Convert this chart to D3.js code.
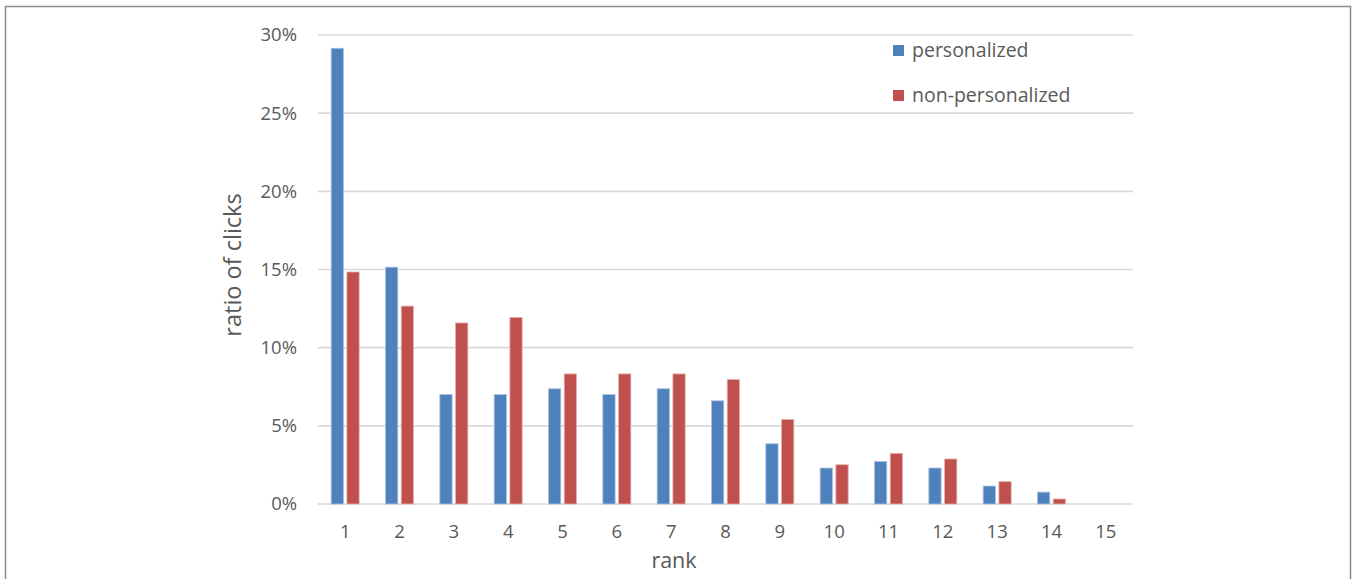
<!DOCTYPE html>
<html>
<head>
<meta charset="utf-8">
<script src="https://cdn.jsdelivr.net/npm/d3@7"></script>
<style>
  html, body { margin: 0; padding: 0; background: #fff; }
  svg { display: block; }
  text { font-family: "Open Sans", "Noto Sans", sans-serif; fill: #595959; }
</style>
</head>
<body>
<svg id="chart" width="1356" height="579"></svg>
<script>
// Click-through share per result rank
const ranks = [1, 2, 3, 4, 5, 6, 7, 8, 9, 10, 11, 12, 13, 14, 15];
const seriesNames = ["personalized", "non-personalized"];
const personalized = [29.15, 15.15, 7.0, 7.0, 7.37, 7.0, 7.37, 6.6, 3.85, 2.3, 2.72, 2.3, 1.15, 0.76, 0];
const nonPersonalized = [14.84, 12.66, 11.58, 11.93, 8.32, 8.32, 8.32, 7.96, 5.4, 2.51, 3.24, 2.88, 1.43, 0.32, 0];
const yTicks = [0, 5, 10, 15, 20, 25, 30];
const colors = ["#4F81BD", "#C0504D"];
const strokes = ["#a9c0de", "#e3b0ae"];

const svg = d3.select("#chart");
const W = 1356, H = 579;
const plot = { left: 318, right: 1133, top: 35, bottom: 504 };

// outer frame (open at the bottom)
svg.append("path")
  .attr("d", `M5.5,${H} V6.5 H1350.5 V${H}`)
  .attr("fill", "none")
  .attr("stroke", "#8c8c8c")
  .attr("stroke-width", 1.5);

const y = d3.scaleLinear().domain([0, 30]).range([plot.bottom, plot.top]);

const groupPad = 1 - 28 / ((plot.right - plot.left) / ranks.length);
const x0 = d3.scaleBand().domain(ranks).range([plot.left, plot.right])
  .paddingInner(groupPad).paddingOuter(groupPad / 2);
const x1 = d3.scaleBand().domain(seriesNames).range([0, x0.bandwidth()]).paddingInner(0.22);

// horizontal gridlines
svg.append("g").selectAll("line").data(yTicks).join("line")
  .attr("x1", plot.left).attr("x2", plot.right)
  .attr("y1", d => y(d)).attr("y2", d => y(d))
  .attr("stroke", "#d9d9d9").attr("stroke-width", 1.6);

// y axis labels
const yAxis = d3.axisLeft(y).tickValues(yTicks).tickFormat(d => d + "%").tickSize(0).tickPadding(21);
const gy = svg.append("g").attr("transform", `translate(${plot.left},0)`).call(yAxis);
gy.select(".domain").remove();
gy.selectAll("text").attr("font-size", 18.5).attr("fill", "#595959")
  .style("font-family", '"Open Sans", "Noto Sans", sans-serif');

// x axis labels
const xAxis = d3.axisBottom(x0).tickSize(0).tickPadding(21);
const gx = svg.append("g").attr("transform", `translate(0,${plot.bottom})`).call(xAxis);
gx.select(".domain").remove();
gx.selectAll("text").attr("font-size", 18.5).attr("fill", "#595959")
  .style("font-family", '"Open Sans", "Noto Sans", sans-serif');

// bars
const rows = ranks.map((r, i) => ({ rank: r, values: [personalized[i], nonPersonalized[i]] }));
const groups = svg.append("g").selectAll("g").data(rows).join("g")
  .attr("transform", d => `translate(${x0(d.rank)},0)`);
groups.selectAll("rect")
  .data(d => d.values.map((v, k) => ({ key: seriesNames[k], k, v })).filter(e => e.v > 0))
  .join("rect")
  .attr("x", d => x1(d.key))
  .attr("width", x1.bandwidth())
  .attr("y", d => y(d.v))
  .attr("height", d => y(0) - y(d.v))
  .attr("fill", d => colors[d.k])
  .attr("stroke", d => strokes[d.k])
  .attr("stroke-width", 0.8);

// axis titles
svg.append("text")
  .attr("transform", "translate(235,265) rotate(-90)")
  .attr("text-anchor", "middle").attr("dominant-baseline", "middle")
  .attr("font-size", 23.5).text("ratio of clicks");
svg.append("text")
  .attr("x", 674).attr("y", 568)
  .attr("text-anchor", "middle")
  .attr("font-size", 21.5).text("rank");

// legend
const legend = svg.append("g").attr("transform", "translate(893,45)");
const li = legend.selectAll("g").data(seriesNames).join("g")
  .attr("transform", (d, i) => `translate(0,${i * 45})`);
li.append("rect").attr("width", 11).attr("height", 11).attr("fill", (d, i) => colors[i]);
li.append("text").attr("x", 19).attr("y", 7).attr("dominant-baseline", "middle")
  .attr("font-size", 19.5).text(d => d);
</script>
</body>
</html>
